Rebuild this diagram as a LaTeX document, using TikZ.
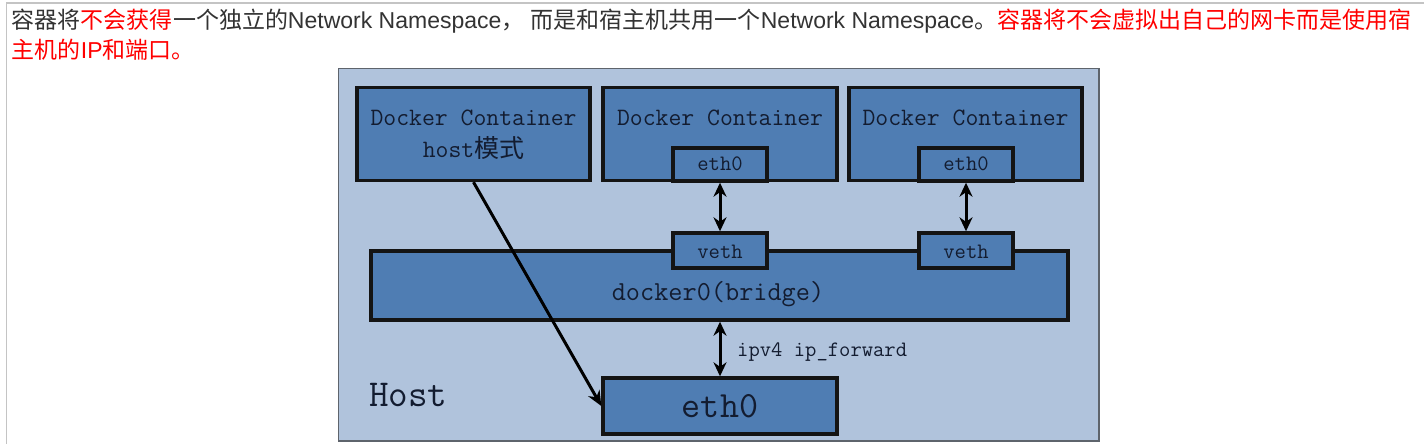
\documentclass[tikz,border=0pt]{standalone}
\usepackage{fontspec}
\setmainfont{Liberation Sans}
\newfontfamily\cjk{Noto Sans CJK SC}
\usetikzlibrary{arrows.meta}
\definecolor{hdrtext}{HTML}{333333}
\definecolor{hdrred}{HTML}{FF0000}
\definecolor{panelbg}{HTML}{B0C3DC}
\definecolor{boxfill}{HTML}{4F7DB3}
\definecolor{inktext}{HTML}{131C30}
\definecolor{framegray}{HTML}{C4C4C4}
\definecolor{panelborder}{HTML}{5E646C}
\tikzset{
  hdr/.style={anchor=base west, inner sep=0pt, outer sep=0pt, font=\fontsize{23}{28}\selectfont},
  panelbox/.style={rectangle, draw=panelborder, line width=1.8pt, fill=panelbg, inner sep=0pt},
  netbox/.style={rectangle, draw=black!92, line width=3.4pt, fill=boxfill, inner sep=0pt},
  mono/.style={inner sep=0pt, text=inktext, font=\ttfamily\fontsize{#1}{#1}\selectfont},
  dbl/.style={line width=3pt, draw=black, {Stealth[length=14pt,width=13pt]}-{Stealth[length=14pt,width=13pt]}},
  one/.style={line width=3pt, draw=black, -{Stealth[length=15pt,width=13pt]}}
}
\begin{document}
\begin{tikzpicture}[x=1pt,y=-1pt]
\useasboundingbox (0,0) rectangle (1424,444);
\fill[white] (0,0) rectangle (1424,444);
\draw[framegray, line width=1.6pt] (6.5,444) -- (6.5,3) -- (1424,3);

% header text
\node[hdr, text=hdrtext] (line1) at (12,28.5)
  {{\cjk 容器将}{\cjk\color{hdrred}不会获得}{\cjk 一个独立的}Network Namespace{\cjk ，}\hspace{6.4pt}{\cjk 而是和宿主机共用一个}Network Namespace{\cjk 。}{\cjk\color{hdrred}容器将不会虚拟出自己的网卡而是使用宿}};
\node[hdr, text=hdrred] (line2) at (12,58.5)
  {{\cjk 主机的}IP{\cjk 和端口。}};

% panel
\node[panelbox, minimum width=760.5, minimum height=372.5] (panel) at (718.75,254.75) {};

% containers
\node[netbox, minimum width=233, minimum height=93] (c1) at (473.5,134) {};
\node[netbox, minimum width=234, minimum height=93] (c2) at (720,134) {};
\node[netbox, minimum width=233, minimum height=93] (c3) at (965.5,134) {};
\node[netbox, minimum width=94, minimum height=33] (c2e) at (720,164.5) {};
\node[netbox, minimum width=94, minimum height=33] (c3e) at (966,164.5) {};

% bridge and veth
\node[netbox, minimum width=697, minimum height=69] (br) at (719.5,285.5) {};
\node[netbox, minimum width=94, minimum height=35] (v2) at (720,250.5) {};
\node[netbox, minimum width=94, minimum height=35] (v3) at (966,250.5) {};

% host eth0
\node[netbox, minimum width=234, minimum height=56] (he) at (720,406) {};

% connectors
\draw[dbl] (c2e.south) -- (v2.north);
\draw[dbl] (c3e.south) -- (v3.north);
\draw[dbl] (he.north |- br.south) -- (he.north);
\draw[one] (c1.south) -- (he.west);

% texts
\node[mono=25, anchor=base] (c1t) at (473.5,125) {Docker Container};
\node[mono=25, anchor=base] (c1h) at (473.5,157) {host{\cjk 模式}};
\node[mono=25, anchor=base] (c2t) at (720,125) {Docker Container};
\node[mono=25, anchor=base] (c3t) at (965.5,125) {Docker Container};
\node[mono=22, anchor=base] (c2et) at (720,170) {eth0};
\node[mono=22, anchor=base] (c3et) at (966,170) {eth0};
\node[mono=22, anchor=base] (v2t) at (720,258) {veth};
\node[mono=22, anchor=base] (v3t) at (966,258) {veth};
\node[mono=27.5, anchor=base] (brt) at (718,300) {docker0(bridge)};
\node[mono=22, anchor=base west] (fwd) at (737,356) {ipv4 ip\_forward};
\node[mono=38, anchor=base west] (host) at (369,406) {Host};
\node[mono=37, anchor=base] (het) at (720,417) {eth0};
\end{tikzpicture}
\end{document}
